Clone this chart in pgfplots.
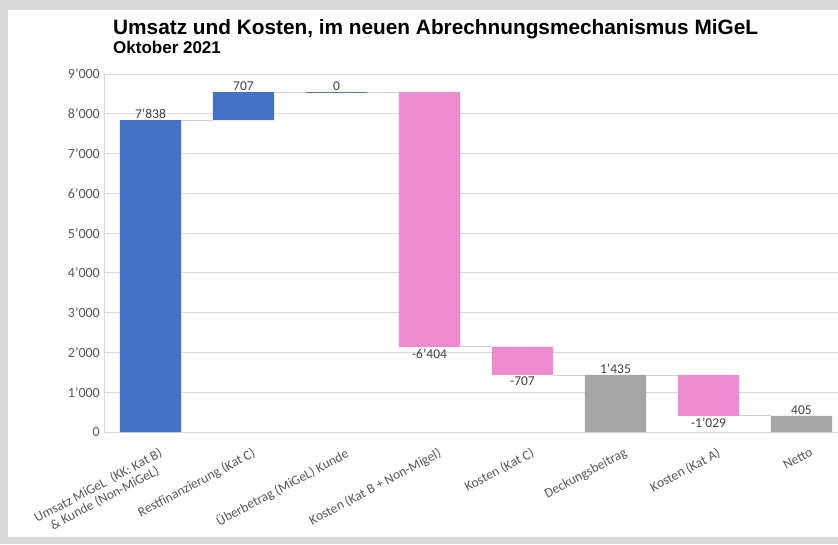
\documentclass[border=0pt]{standalone}
\usepackage{fontspec}
\setmainfont{Carlito}
\newfontfamily\titlefont{Liberation Sans}
\usepackage{pgfplots}
\usepackage{pgfplotstable}
\pgfplotsset{compat=1.18}
\definecolor{cblue}{HTML}{4472C4}
\definecolor{cpink}{HTML}{EE8CD2}
\definecolor{cgray}{HTML}{A5A5A5}
\definecolor{framec}{HTML}{DADADA}
\definecolor{gridc}{HTML}{D9D9D9}
\definecolor{conc}{HTML}{CFCFCF}
\definecolor{lbl}{HTML}{404040}
\definecolor{tck}{HTML}{595959}

\pgfplotstableread{
x base inc dec tot
0 0    7838 0    0
1 7838 707  0    0
2 8545 0    0    0
3 2141 0    6404 0
4 1434 0    707  0
5 0    0    0    1435
6 406  0    1029 0
7 0    0    0    405
}\wf

\pgfplotstableread{
x y lab
0 7838 7’838
1 8545 707
2 8545 0
5 1435 1’435
7 405 405
}\lababove

\pgfplotstableread{
x y lab
3 2141 -6’404
4 1434 -707
6 406 -1’029
}\labbelow

\pgfplotsset{wfaxis/.style={
  width=744pt, height=358pt, scale only axis,
  xmin=-0.5, xmax=7.5, ymin=0, ymax=9000,
  at={(104pt,112pt)}, anchor=south west}}

\begin{document}
\begin{tikzpicture}
\useasboundingbox (0,0) rectangle (838pt,544pt);
\fill[framec] (0,0) rectangle (838pt,544pt);
\fill[white] (8pt,7pt) rectangle (840pt,534pt);

\node[anchor=base west, inner sep=0pt, font=\titlefont\bfseries\fontsize{20.8}{24}\selectfont] at (113pt,509pt)
  {Umsatz und Kosten, im neuen Abrechnungsmechanismus MiGeL};
\node[anchor=base west, inner sep=0pt, font=\titlefont\bfseries\fontsize{17}{20}\selectfont] at (113pt,490pt)
  {Oktober 2021};

\begin{axis}[wfaxis,
  ybar stacked, bar width=0.656,
  axis line style={draw=gridc, line width=0.8pt},
  ymajorgrids, major grid style={draw=gridc, line width=0.8pt},
  major tick length=0pt,
  ytick={0,1000,2000,3000,4000,5000,6000,7000,8000,9000},
  yticklabels={0,1’000,2’000,3’000,4’000,5’000,6’000,7’000,8’000,9’000},
  yticklabel style={font=\fontsize{14}{15}\selectfont, text=tck, inner sep=4pt},
  xtick={0,1,2,3,4,5,6,7},
  xticklabels={{Umsatz MiGeL\ \ (KK: Kat B)\\\& Kunde (Non-MiGeL)},
    {Restfinanzierung (Kat C)},
    {Überbetrag (MiGeL) Kunde},
    {Kosten (Kat B + Non-Migel)},
    {Kosten (Kat C)},
    {Deckungsbeitrag},
    {Kosten (Kat A)},
    {Netto}},
  xticklabel style={rotate=28, anchor=north east, align=center,
    font=\fontsize{13.5}{14}\selectfont, text=tck, inner sep=2pt, yshift=-15pt, xshift=2pt},
]
\addplot[fill=none, draw=none] table[x=x, y=base]{\wf};
\addplot[fill=cblue, draw=none] table[x=x, y=inc]{\wf};
\addplot[fill=cpink, draw=none] table[x=x, y=dec]{\wf};
\addplot[fill=cgray, draw=none] table[x=x, y=tot]{\wf};
\end{axis}

\begin{axis}[wfaxis, hide axis, clip=false]
\addplot[conc, line width=0.8pt] coordinates {(0.328,7838)(0.672,7838)};
\addplot[conc, line width=0.8pt] coordinates {(1.328,8545)(1.672,8545)};
\addplot[conc, line width=0.8pt] coordinates {(2.328,8545)(2.672,8545)};
\addplot[conc, line width=0.8pt] coordinates {(3.328,2141)(3.672,2141)};
\addplot[conc, line width=0.8pt] coordinates {(4.328,1434)(4.672,1434)};
\addplot[conc, line width=0.8pt] coordinates {(5.328,1435)(5.672,1435)};
\addplot[conc, line width=0.8pt] coordinates {(6.328,406)(6.672,406)};
\addplot[cblue!70!gray, line width=1pt] coordinates {(1.672,8545)(2.328,8545)};
\addplot[draw=none, mark=none, nodes near coords, point meta=explicit symbolic,
  nodes near coords style={anchor=south, inner sep=1.5pt, text=lbl, font=\fontsize{13.5}{14}\selectfont}]
  table[x=x, y=y, meta=lab]{\lababove};
\addplot[draw=none, mark=none, nodes near coords, point meta=explicit symbolic,
  nodes near coords style={anchor=north, inner sep=2pt, text=lbl, font=\fontsize{13.5}{14}\selectfont}]
  table[x=x, y=y, meta=lab]{\labbelow};
\end{axis}
\end{tikzpicture}
\end{document}
